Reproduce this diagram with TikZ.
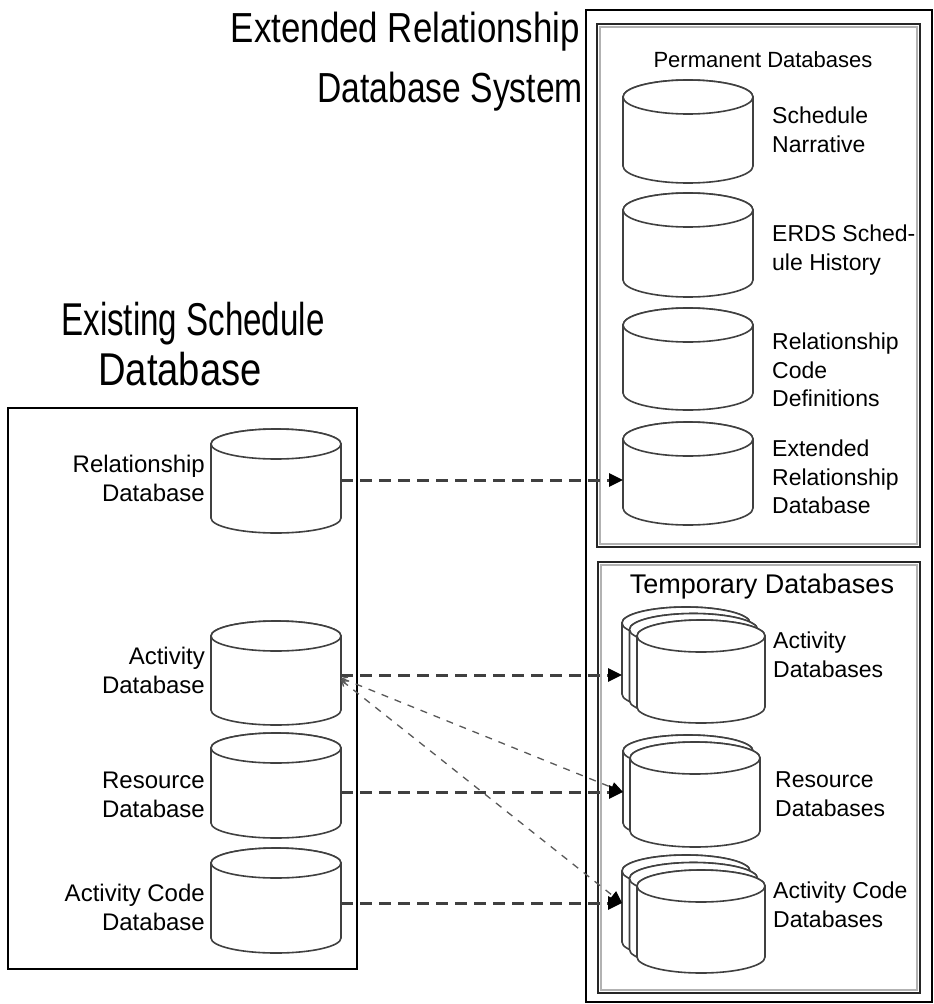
\documentclass[tikz,border=0pt]{standalone}
\usepackage{fontspec}
\setmainfont{Liberation Sans}
\usepackage{graphicx}
\usetikzlibrary{arrows.meta}
\tikzset{
  cyl/.style={draw=black!75, line width=1.6pt, fill=white},
  dbbox/.style={rectangle, draw=none, inner sep=0pt, outer sep=0pt},
  lab/.style={font=\fontsize{24}{29}\selectfont, inner sep=0pt},
  rlab/.style={font=\fontsize{23}{28.5}\selectfont, inner sep=0pt},
  bigtitle/.style={font=\fontsize{#1}{#1}\selectfont, inner sep=0pt},
  subtitle/.style={font=\fontsize{#1}{#1}\selectfont, inner sep=0pt},
  outerbox/.style={draw=black, line width=2.5pt},
  innerbox/.style={draw=black!85, line width=2.5pt},
  shadowline/.style={draw=black!30, line width=1.5pt},
  conn/.style={draw=black!75, line width=3pt, dash pattern=on 12pt off 7pt,
    -{Triangle[length=14pt,width=13pt,black]}},
  diag/.style={draw=black!65, line width=1.3pt, dash pattern=on 7pt off 7pt,
    {Straight Barb[length=5pt,width=7pt]}-{Triangle[length=12pt,width=11pt,black]}}
}
% #1 name, #2 left x, #3 top y, #4 width, #5 height, #6 ellipse half-height
\newcommand\dbcyl[6]{%
  \node[dbbox, minimum width=#4pt, minimum height=#5pt, anchor=north west] (#1) at (#2,#3) {};
  \draw[cyl] ([yshift=-#6pt]#1.north west) -- ([yshift=#6pt]#1.south west)
    arc[start angle=180, end angle=360, x radius=#4pt/2, y radius=#6pt]
    -- ([yshift=-#6pt]#1.north east)
    arc[start angle=0, end angle=180, x radius=#4pt/2, y radius=#6pt] -- cycle;
  \draw[cyl] ([yshift=-#6pt]#1.north) ellipse[x radius=#4pt/2, y radius=#6pt];
}
\begin{document}
\begin{tikzpicture}[x=1pt,y=-1pt]
\useasboundingbox (0,0) rectangle (934,1004);
\fill[white] (0,0) rectangle (934,1004);

% ---- titles
\node[bigtitle=42, anchor=base east] (tExt1) at (580,42) {\scalebox{0.83}[1]{Extended Relationship}};
\node[bigtitle=42, anchor=base east] (tExt2) at (583,102) {\scalebox{0.80}[1]{Database System}};
\node[bigtitle=46, anchor=base] (tEx1) at (193,335) {\scalebox{0.72}[1]{Existing Schedule}};
\node[bigtitle=46, anchor=base] (tEx2) at (180,385) {\scalebox{0.83}[1]{Database}};

% ---- boxes
\draw[outerbox] (8,408) rectangle (357,969);
\draw[outerbox] (586,10) rectangle (932,1002);
\draw[shadowline] (600,27) rectangle (917,544);
\draw[innerbox] (597,24) rectangle (920,547);
\draw[shadowline] (601,565) rectangle (917,990);
\draw[innerbox] (598,562) rectangle (920,993);

\node[subtitle=22, anchor=base] (tPerm) at (763,67) {Permanent Databases};
\node[subtitle=27, anchor=base] (tTemp) at (762,593) {Temporary Databases};

% ---- existing schedule databases
\dbcyl{relDB}{211}{429}{130}{104}{15}
\dbcyl{actDB}{211}{621}{130}{104}{15}
\dbcyl{resDB}{211}{733}{130}{105}{15}
\dbcyl{acdDB}{211}{848}{130}{105}{15}

\node[lab, align=right, anchor=east] (lRel) at (205,478) {Relationship\\Database};
\node[lab, align=right, anchor=east] (lAct) at (205,670) {Activity\\Database};
\node[lab, align=right, anchor=east] (lRes) at (205,795) {Resource\\Database};
\node[lab, align=right, anchor=east] (lAcd) at (205,907) {Activity Code\\Database};

% ---- permanent databases
\dbcyl{narr}{623}{80}{130}{103}{17}
\dbcyl{hist}{623}{193}{130}{104}{17}
\dbcyl{codes}{623}{308}{130}{102}{17}
\dbcyl{extDB}{623}{422}{130}{103}{17}

\node[rlab, align=left, anchor=west] (lNarr) at (772,130) {Schedule\\Narrative};
\node[rlab, align=left, anchor=west] (lHist) at (772,250) {ERDS Sched-\\ule History};
\node[rlab, align=left, anchor=west] (lCodes) at (772,370) {Relationship\\Code\\Definitions};
\node[rlab, align=left, anchor=west] (lExt) at (772,477) {Extended\\Relationship\\Database};

% ---- temporary databases
\dbcyl{tactA}{622}{607}{128}{103}{16}
\dbcyl{tactB}{629.5}{613.5}{128}{103}{16}
\dbcyl{tact}{637}{620}{128}{103}{16}

\dbcyl{tresA}{623}{735}{130}{104}{16}
\dbcyl{tres}{630}{742}{130}{105}{16}

\dbcyl{tacdA}{622}{855}{128}{103}{16}
\dbcyl{tacdB}{629.5}{862.5}{128}{103}{16}
\dbcyl{tacd}{637}{870}{128}{103}{16}

\node[rlab, align=left, anchor=west] (lTact) at (773,655) {Activity\\Databases};
\node[rlab, align=left, anchor=west] (lTres) at (775,794) {Resource\\Databases};
\node[rlab, align=left, anchor=west] (lTacd) at (773,905) {Activity Code\\Databases};

% ---- connectors
\coordinate (relTip) at ([yshift=1pt]relDB.east -| extDB.west);
\coordinate (actTip) at ([yshift=-2pt]actDB.east -| tactA.west);
\coordinate (resTip) at ([yshift=-6.5pt]resDB.east -| tresA.west);
\coordinate (acdTip) at ([yshift=-2.5pt]acdDB.east -| tacdA.west);

\draw[conn] ([yshift=1pt]relDB.east) -- (relTip);
\draw[conn] ([yshift=-2pt]actDB.east) -- (actTip);
\draw[conn] ([yshift=-6.5pt]resDB.east) -- (resTip);
\draw[conn] ([yshift=-2.5pt]acdDB.east) -- (acdTip);

\draw[diag] ([yshift=-5pt]actDB.east) -- (resTip);
\draw[diag] ([yshift=-7pt]actDB.east) -- (acdTip);
\end{tikzpicture}
\end{document}
